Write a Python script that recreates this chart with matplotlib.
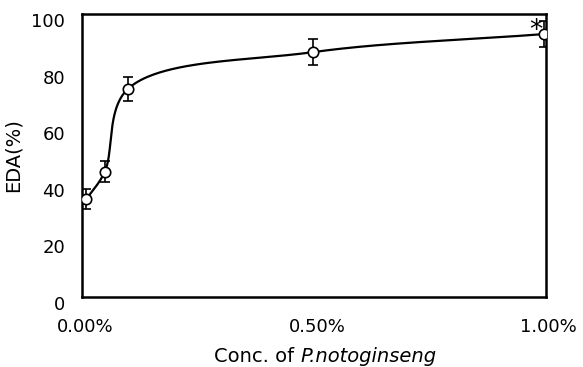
import numpy as np
import matplotlib
matplotlib.use("Agg")
from matplotlib import pyplot as plt
from matplotlib.transforms import ScaledTranslation

# EDA (%) against concentration of P. notoginseng (%)
conc = [0.01, 0.05, 0.10, 0.50, 1.00]
eda = [34.5, 44.2, 73.5, 86.5, 92.9]
eda_err = [3.5, 3.7, 4.2, 4.5, 4.7]
xtick_vals = [0.0, 0.5, 1.0]
xtick_labels = ["0.00%", "0.50%", "1.00%"]
ytick_vals = [0, 20, 40, 60, 80, 100]

plt.rcParams["font.family"] = ["DejaVu Sans"]
FS = 13
LFS = 14


def smooth_curve(xs, ys, sx, sy, n=80, alpha=0.5):
    # centripetal Catmull-Rom through the points, done in screen-like units
    pts = np.column_stack([np.asarray(xs) * sx, np.asarray(ys) * sy])
    pts = np.vstack([2 * pts[0] - pts[1], pts, 2 * pts[-1] - pts[-2]])
    out = []
    for i in range(len(pts) - 3):
        p0, p1, p2, p3 = pts[i:i + 4]
        t0 = 0.0
        t1 = t0 + np.linalg.norm(p1 - p0) ** alpha
        t2 = t1 + np.linalg.norm(p2 - p1) ** alpha
        t3 = t2 + np.linalg.norm(p3 - p2) ** alpha
        t = np.linspace(t1, t2, n)[:, None]
        a1 = (t1 - t) / (t1 - t0) * p0 + (t - t0) / (t1 - t0) * p1
        a2 = (t2 - t) / (t2 - t1) * p1 + (t - t1) / (t2 - t1) * p2
        a3 = (t3 - t) / (t3 - t2) * p2 + (t - t2) / (t3 - t2) * p3
        b1 = (t2 - t) / (t2 - t0) * a1 + (t - t0) / (t2 - t0) * a2
        b2 = (t3 - t) / (t3 - t1) * a2 + (t - t1) / (t3 - t1) * a3
        c = (t2 - t) / (t2 - t1) * b1 + (t - t1) / (t2 - t1) * b2
        out.append(c)
    out = np.vstack(out)
    return out[:, 0] / sx, out[:, 1] / sy


fig = plt.figure(figsize=(5.83, 3.67), dpi=100)
ax = fig.add_axes([0.140, 0.191, 0.796, 0.771])

cx, cy = smooth_curve(conc, eda, 462.0, 2.83)
ax.plot(cx, cy, color="black", lw=1.6, zorder=2)
ax.errorbar(conc, eda, yerr=eda_err, fmt="none", ecolor="black",
            elinewidth=1.2, capsize=3.5, capthick=1.2, zorder=3)
ax.plot(conc, eda, "o", ms=7.5, mfc="white", mec="black", mew=1.2, zorder=4)
ax.text(0.982, 94.0, "*", fontsize=19, ha="center", va="center")

ax.set_xlim(0, 1.003)
ax.set_ylim(0, 100)
ax.set_xticks(xtick_vals)
ax.set_xticklabels(xtick_labels)
ax.set_yticks(ytick_vals)
ax.tick_params(length=0, labelsize=FS)
ax.tick_params(axis="x", pad=15)
ax.tick_params(axis="y", pad=12)
for lbl in ax.get_yticklabels():
    lbl.set_transform(lbl.get_transform() + ScaledTranslation(0, -0.06, fig.dpi_scale_trans))
for lbl in ax.get_xticklabels():
    lbl.set_transform(lbl.get_transform() + ScaledTranslation(0.04, 0, fig.dpi_scale_trans))
for sp in ax.spines.values():
    sp.set_linewidth(1.8)

ax.set_ylabel("EDA(%)", fontsize=LFS, labelpad=6)

# x label: plain part followed by the italic species name
t1 = fig.text(214 / 583, 1 - 362 / 367, "Conc. of ", fontsize=LFS, ha="left", va="baseline")
ax.annotate("P.notoginseng", xy=(1, 0), xycoords=t1, fontsize=LFS, fontstyle="italic",
            ha="left", va="bottom", annotation_clip=False)

fig.savefig("out.png", dpi=100)
